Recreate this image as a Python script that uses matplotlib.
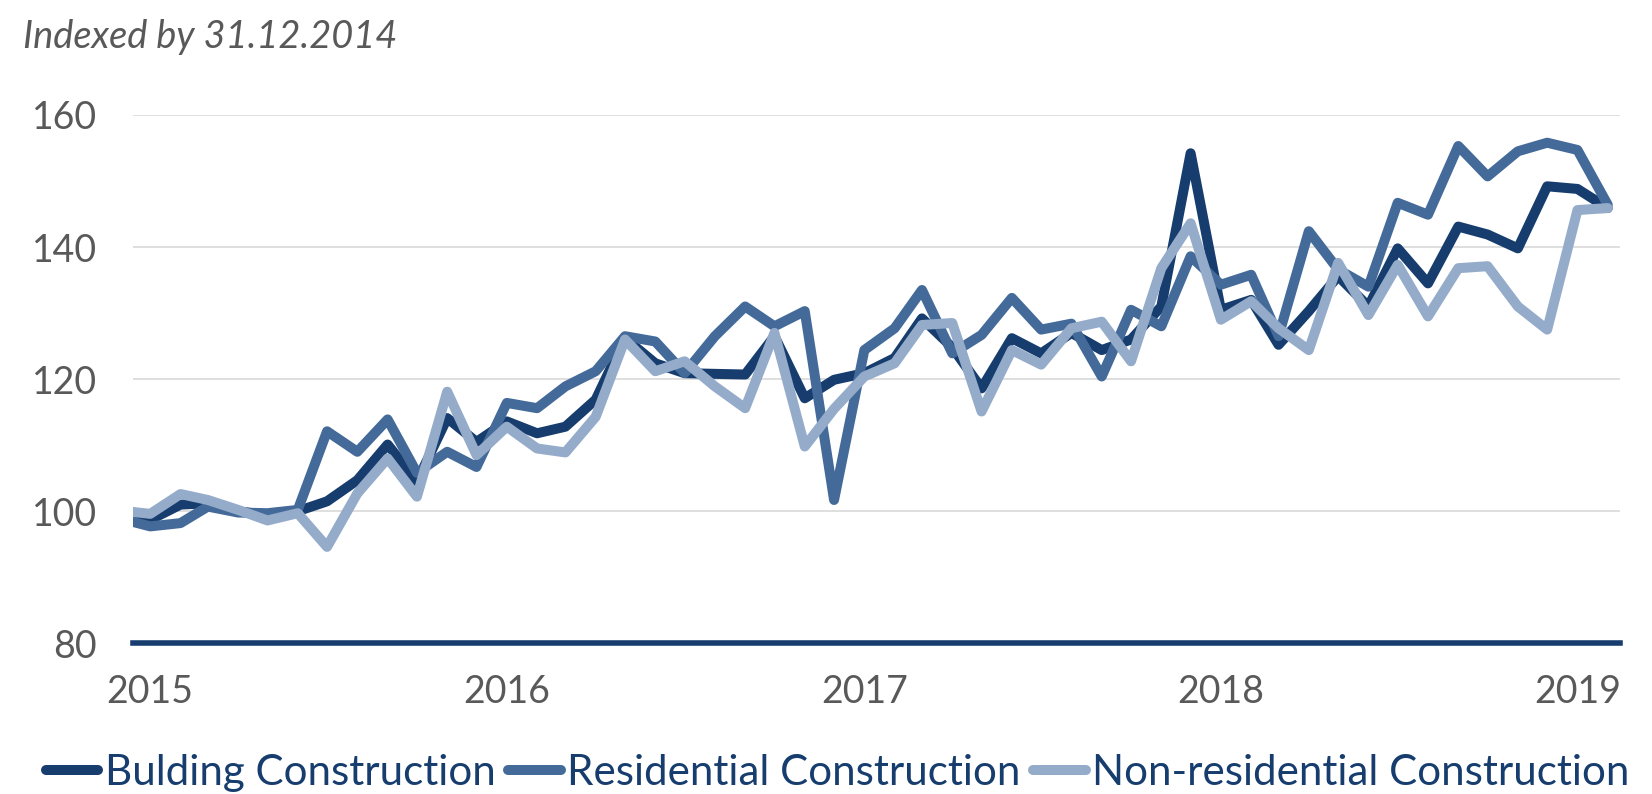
import matplotlib
matplotlib.use("Agg")
import matplotlib.pyplot as plt
import matplotlib.dates as mdates
import pandas as pd
from datetime import datetime

# monthly index values, Dec 2014 .. Feb 2019 (indexed by 31.12.2014)
months = pd.date_range("2014-12-01", periods=51, freq="MS")

building = [99.2,
            98.7, 101.0, 101.2, 100.0, 99.4, 100.0, 101.5, 104.7, 110.1, 104.5, 114.1, 110.5,
            113.6, 111.8, 112.8, 116.9, 126.2, 122.4, 120.9, 120.8, 120.7, 126.5, 117.1, 119.9,
            120.9, 123.2, 129.2, 124.8, 118.6, 126.2, 123.9, 127.0, 124.4, 126.0, 131.0, 154.2,
            130.5, 132.0, 125.2, 130.3, 135.6, 131.0, 139.8, 134.5, 143.1, 141.9, 139.8, 149.2,
            148.8, 145.9]

residential = [98.9,
               97.7, 98.2, 100.7, 99.8, 99.7, 100.2, 112.1, 109.0, 113.9, 105.8, 109.0, 106.7,
               116.4, 115.6, 118.9, 121.2, 126.5, 125.7, 120.9, 126.5, 131.0, 128.0, 130.3, 101.7,
               124.4, 127.7, 133.5, 123.9, 126.7, 132.3, 127.5, 128.4, 120.4, 130.5, 128.0, 138.6,
               134.3, 135.8, 126.5, 142.4, 136.6, 134.0, 146.7, 144.9, 155.3, 150.7, 154.5, 155.8,
               154.7, 146.4]

non_residential = [100.1,
                   99.6, 102.6, 101.7, 100.2, 98.6, 99.7, 94.6, 102.7, 108.0, 102.2, 118.1, 108.5,
                   112.8, 109.5, 108.9, 114.3, 126.0, 121.2, 122.7, 118.9, 115.6, 127.0, 109.8, 115.5,
                   120.4, 122.4, 128.2, 128.5, 115.1, 124.4, 122.2, 127.7, 128.7, 122.7, 136.8, 143.6,
                   129.0, 131.8, 127.7, 124.4, 137.6, 129.7, 137.3, 129.5, 136.8, 137.1, 131.0, 127.5,
                   145.6, 145.9]

labels = ["Bulding Construction", "Residential Construction", "Non-residential Construction"]
colors = ["#163D6D", "#446A9A", "#94ABCA"]
year_ticks = [datetime(y, 1, 1) for y in range(2015, 2020)]
y_ticks = [80, 100, 120, 140, 160]

plt.rcParams["font.family"] = ["Lato", "DejaVu Sans"]
grey = "#595959"

fig = plt.figure(figsize=(16.52, 7.94), dpi=100)
ax = fig.add_axes([0.0805, 0.1898, 0.9001, 0.6654])

lines = []
for vals, lab, col in zip([building, residential, non_residential], labels, colors):
    ln, = ax.plot(months, vals, color=col, lw=7.2, label=lab,
                  solid_joinstyle="round", solid_capstyle="round", zorder=3)
    lines.append(ln)

ax.set_ylim(80, 160)
ax.set_xlim(datetime(2014, 12, 14, 8), datetime(2019, 2, 13, 12))
ax.set_yticks(y_ticks)
ax.set_xticks(year_ticks)
ax.xaxis.set_major_formatter(mdates.DateFormatter("%Y"))

ax.grid(axis="y", color="#D9D9D9", lw=1.2, zorder=0)
ax.grid(axis="x", visible=False)
for s in ["top", "right", "left"]:
    ax.spines[s].set_visible(False)
ax.spines["bottom"].set_color("#163D6D")
ax.spines["bottom"].set_linewidth(4)
ax.spines["bottom"].set_zorder(4)

ax.tick_params(axis="y", length=0, pad=26, labelsize=27, labelcolor=grey)
ax.tick_params(axis="x", length=0, pad=22, labelsize=27, labelcolor=grey)

fig.text(23 / 1652, 1 - 37 / 794, "Indexed by 31.12.2014", fontsize=27.4,
         style="italic", color=grey, ha="left", va="center")

fig.legend(handles=lines, loc="center", bbox_to_anchor=(0.507, 0.027), ncol=3,
           frameon=False, fontsize=30.3, labelcolor="#163D6D",
           handlelength=1.25, handletextpad=0.15, columnspacing=0.3,
           borderpad=0, borderaxespad=0)

fig.savefig("out.png", dpi=100)
